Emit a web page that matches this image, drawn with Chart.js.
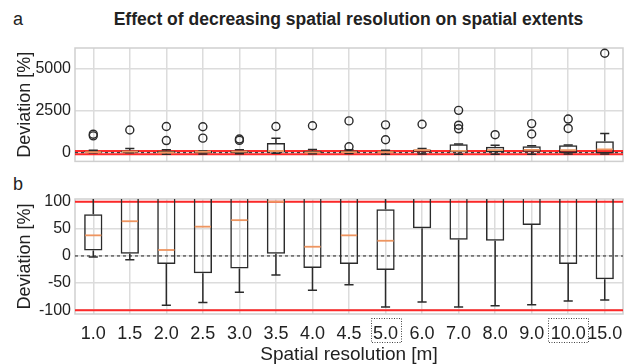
<!DOCTYPE html>
<html>
<head>
<meta charset="utf-8">
<script src="https://cdn.jsdelivr.net/npm/chart.js@4.4.0/dist/chart.umd.min.js"></script>
<style>
  html, body { margin: 0; padding: 0; background: #fff; }
  body { width: 634px; height: 364px; position: relative; overflow: hidden;
         font-family: "Liberation Sans", Arial, sans-serif; color: #222; }
  canvas { position: absolute; left: 0; }
  #panelA { top: 0; }
  #panelB { top: 175px; }
  .tag { position: absolute; left: 13px; font-size: 18px; line-height: 22px; }
  #title { position: absolute; left: 0; top: 9px; width: 697px; text-align: center;
           font-weight: bold; font-size: 17.5px; line-height: 20px; }
</style>
</head>
<body>
<div class="tag" style="top:8px">a</div>
<div class="tag" style="top:173px">b</div>
<div id="title">Effect of decreasing spatial resolution on spatial extents</div>
<canvas id="panelA" width="634" height="175"></canvas>
<canvas id="panelB" width="634" height="189"></canvas>
<script>
// ── Box plot statistics per spatial resolution (deviation in %) ──
const resolutions = ['1.0', '1.5', '2.0', '2.5', '3.0', '3.5', '4.0', '4.5', '5.0', '6.0', '7.0', '8.0', '9.0', '10.0', '15.0'];
const whiskerLow  = [-2, -7, -91, -86, -67, -35, -63, -53, -94, -85, -94, -92, -90, -83, -81];
const lowerQuart  = [10, 4, -15, -32, -23, 4, -22, -15, -26, 51, 30, 28, 57, -15, -43];
const medians     = [38, 64, 11, 54, 66, 100, 17, 38, 28, 150, 110, 155, 170, 155, 190];
const upperQuart  = [77, 130, 120, 110, 130, 580, 120, 130, 86, 190, 500, 350, 385, 440, 680];
const whiskerHigh = [150, 250, 170, 120, 170, 860, 190, 180, 150, 250, 520, 440, 410, 450, 1140];
const outliers = [
  [1100, 1000], [1350], [1560, 720], [1540, 865], [810, 730], [1560], [1600], [1890, 350],
  [1655, 770], [1690], [2520, 1635, 1420], [1070], [1730, 1114], [2000, 1442], [5920]
];

// axis ticks and reference lines
const extentTicks = [0, 2500, 5000];
const zoomTicks   = [-100, -75, -50, -25, 0, 25, 50, 75, 100];
const limitLines  = [-100, 100];
const markedTicks = ['5.0', '10.0'];

Chart.defaults.font.family = '"Liberation Sans", Arial, sans-serif';
Chart.defaults.color = '#222';

const EDGE = '#2b2b2b';
const MEDIAN = '#ee9560';
const GRID = '#dcdcdc';

// whiskers, caps, medians, frame and the ±100 / 0 reference lines
const boxLayer = {
  id: 'boxLayer',
  beforeDatasetsDraw(chart) {
    const { ctx, chartArea: a, scales: { y } } = chart;
    ctx.save();
    ctx.strokeStyle = '#cfcfcf';
    ctx.lineWidth = 1.5;
    ctx.strokeRect(a.left, a.top, a.right - a.left, a.bottom - a.top);

    ctx.beginPath();
    ctx.rect(a.left, a.top, a.right - a.left, a.bottom - a.top);
    ctx.clip();

    ctx.strokeStyle = '#222';
    ctx.lineWidth = 1;
    ctx.setLineDash([3, 3]);
    ctx.beginPath();
    ctx.moveTo(a.left, y.getPixelForValue(0));
    ctx.lineTo(a.right, y.getPixelForValue(0));
    ctx.stroke();
    ctx.setLineDash([]);

    ctx.strokeStyle = 'rgba(255,20,20,0.9)';
    ctx.lineWidth = 2;
    limitLines.forEach(v => {
      const py = y.getPixelForValue(v);
      ctx.beginPath();
      ctx.moveTo(a.left, py);
      ctx.lineTo(a.right, py);
      ctx.stroke();
    });
    ctx.restore();
  },
  afterDatasetsDraw(chart) {
    const { ctx, chartArea: a, scales: { x, y } } = chart;
    const bars = chart.getDatasetMeta(0).data;
    ctx.save();
    ctx.beginPath();
    ctx.rect(a.left, a.top, a.right - a.left, a.bottom - a.top);
    ctx.clip();
    ctx.lineWidth = 1.5;
    resolutions.forEach((r, i) => {
      const px = x.getPixelForValue(i);
      const half = bars[i].width / 2;
      const cap = half / 2;
      ctx.strokeStyle = EDGE;
      ctx.beginPath();
      ctx.moveTo(px, y.getPixelForValue(lowerQuart[i]));
      ctx.lineTo(px, y.getPixelForValue(whiskerLow[i]));
      ctx.moveTo(px - cap, y.getPixelForValue(whiskerLow[i]));
      ctx.lineTo(px + cap, y.getPixelForValue(whiskerLow[i]));
      ctx.moveTo(px, y.getPixelForValue(upperQuart[i]));
      ctx.lineTo(px, y.getPixelForValue(whiskerHigh[i]));
      ctx.moveTo(px - cap, y.getPixelForValue(whiskerHigh[i]));
      ctx.lineTo(px + cap, y.getPixelForValue(whiskerHigh[i]));
      ctx.stroke();

      ctx.strokeStyle = MEDIAN;
      ctx.lineWidth = 1.8;
      ctx.beginPath();
      ctx.moveTo(px - half + 1, y.getPixelForValue(medians[i]));
      ctx.lineTo(px + half - 1, y.getPixelForValue(medians[i]));
      ctx.stroke();
      ctx.lineWidth = 1.5;
    });
    ctx.restore();
  }
};

// dotted frames round selected resolution labels
const tickMarks = {
  id: 'tickMarks',
  afterDraw(chart) {
    const { ctx, scales: { x } } = chart;
    ctx.save();
    ctx.font = '18px "Liberation Sans", Arial, sans-serif';
    ctx.strokeStyle = '#444';
    ctx.lineWidth = 1;
    ctx.setLineDash([1, 1.5]);
    markedTicks.forEach(lbl => {
      const px = x.getPixelForValue(resolutions.indexOf(lbl));
      const w = ctx.measureText(lbl).width + 5;
      ctx.strokeRect(Math.round(px - w / 2) + 0.5, x.top + 4.5, Math.round(w), 24);
    });
    ctx.restore();
  }
};

function boxDatasets() {
  const points = [];
  outliers.forEach((list, i) => list.forEach(v => points.push({ x: resolutions[i], y: v })));
  return [
    {
      type: 'bar',
      data: resolutions.map((r, i) => [lowerQuart[i], upperQuart[i]]),
      backgroundColor: 'rgba(0,0,0,0)',
      borderColor: EDGE,
      borderWidth: 1.5,
      borderSkipped: false,
      barPercentage: 0.5,
      categoryPercentage: 1.0,
    },
    {
      type: 'line',
      data: points,
      showLine: false,
      pointStyle: 'circle',
      pointRadius: 4,
      pointBorderWidth: 1.4,
      pointBorderColor: EDGE,
      pointBackgroundColor: 'rgba(0,0,0,0)',
    },
  ];
}

function yTitle() {
  return { display: true, text: 'Deviation [%]', font: { size: 18 }, padding: { top: 14, bottom: 0 } };
}

// a: full range of deviations
new Chart(document.getElementById('panelA'), {
  data: { labels: resolutions, datasets: boxDatasets() },
  options: {
    responsive: false,
    animation: false,
    devicePixelRatio: 1,
    layout: { padding: { top: 48, right: 11, bottom: 10, left: 0 } },
    plugins: { legend: { display: false }, tooltip: { enabled: false } },
    scales: {
      x: {
        offset: true,
        grid: { offset: false, color: GRID, lineWidth: 1.5, drawTicks: false },
        border: { display: false },
        ticks: { display: false },
        afterFit: s => { s.height = 0; },
      },
      y: {
        min: -520,
        max: 6230,
        afterBuildTicks: s => { s.ticks = extentTicks.map(v => ({ value: v })); },
        grid: { color: GRID, lineWidth: 1.5, drawTicks: false },
        border: { display: false },
        ticks: { font: { size: 16 }, padding: 4, callback: v => String(v) },
        title: yTitle(),
        afterFit: s => { s.width = 75; },
      },
    },
  },
  plugins: [boxLayer],
});

// b: zoom on -100 % .. 100 %
new Chart(document.getElementById('panelB'), {
  data: { labels: resolutions, datasets: boxDatasets() },
  options: {
    responsive: false,
    animation: false,
    devicePixelRatio: 1,
    layout: { padding: { top: 24, right: 11, bottom: 0, left: 0 } },
    plugins: { legend: { display: false }, tooltip: { enabled: false } },
    scales: {
      x: {
        offset: true,
        grid: { offset: false, color: GRID, lineWidth: 1.5, drawTicks: false },
        border: { display: false },
        ticks: { font: { size: 18 }, padding: 9, maxRotation: 0, autoSkip: false },
        title: { display: true, text: 'Spatial resolution [m]', font: { size: 19, lineHeight: 1.0 }, padding: { top: 0, bottom: 0 } },
        afterFit: s => { s.height = 50; },
      },
      y: {
        min: -107,
        max: 105,
        afterBuildTicks: s => { s.ticks = zoomTicks.map(v => ({ value: v })); },
        grid: { color: GRID, lineWidth: 1.5, drawTicks: false },
        border: { display: false },
        ticks: { font: { size: 16 }, padding: 4, callback: v => (v % 50 === 0 ? String(v) : '') },
        title: yTitle(),
        afterFit: s => { s.width = 75; },
      },
    },
  },
  plugins: [boxLayer, tickMarks],
});
</script>
</body>
</html>
